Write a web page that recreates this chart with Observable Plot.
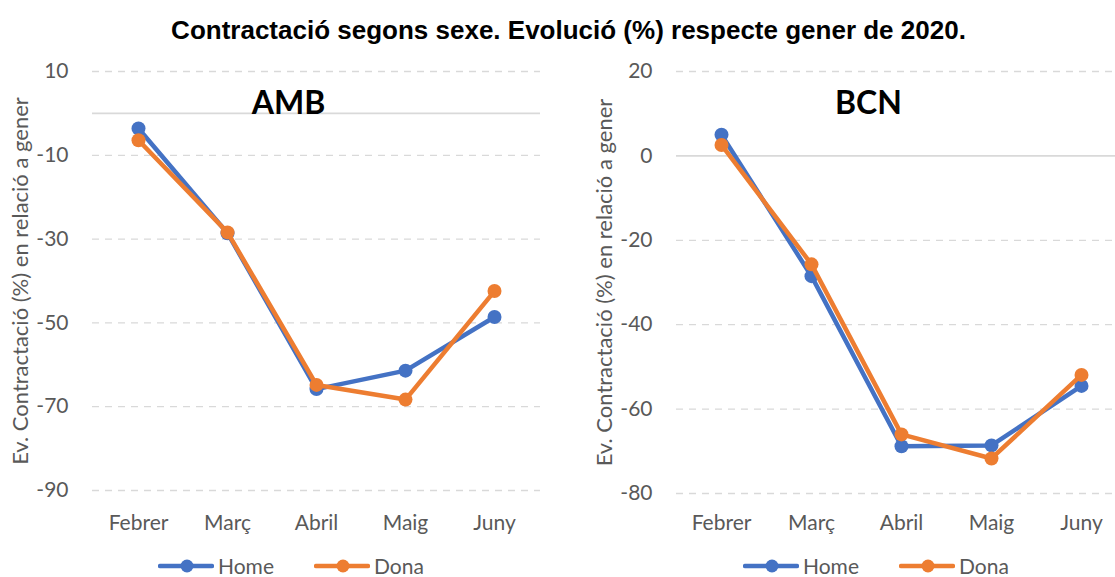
<!DOCTYPE html>
<html>
<head>
<meta charset="utf-8">
<script src="https://cdn.jsdelivr.net/npm/d3@7"></script>
<script src="https://cdn.jsdelivr.net/npm/@observablehq/plot@0.6"></script>
<style>
  html, body { margin: 0; padding: 0; background: #fff; }
  body { width: 1115px; height: 577px; overflow: hidden; position: relative; font-family: Lato, "Open Sans", sans-serif; }
  #title { position: absolute; left: 0; top: 15px; width: 1137px; text-align: center; font-family: "Liberation Sans", Arial, sans-serif; font-weight: bold; font-size: 26px; color: #000; line-height: 30px; }
  .panel { position: absolute; top: 50px; height: 500px; overflow: visible; }
  .panel svg { max-width: none !important; }
  .legend { position: absolute; top: 555px; height: 22px; display: flex; align-items: center; font-family: Lato, sans-serif; font-size: 21px; color: #595959; line-height: 22px; white-space: nowrap; }
  .legend .item { display: flex; align-items: center; }
  .legend .item + .item { margin-left: 40px; }
  .legend svg { margin-right: 4px; }
</style>
</head>
<body>
<div id="title">Contractació segons sexe. Evolució (%) respecte gener de 2020.</div>
<div id="left" class="panel" style="left:0px; width:557px"></div>
<div id="right" class="panel" style="left:557px; width:569px"></div>
<div id="legL" class="legend" style="left:158px"></div>
<div id="legR" class="legend" style="left:743px"></div>
<script>
const months = ["Febrer", "Març", "Abril", "Maig", "Juny"];
const seriesNames = ["Home", "Dona"];
const seriesColors = ["#4472C4", "#ED7D31"];

const ambHome = [-3.6, -28.6, -65.8, -61.4, -48.6];
const ambDona = [-6.4, -28.4, -64.8, -68.3, -42.4];
const bcnHome = [5.0, -28.5, -68.8, -68.6, -54.5];
const bcnDona = [2.6, -25.7, -66.0, -71.7, -51.9];

const ambTicks = [10, -10, -30, -50, -70, -90];
const bcnTicks = [20, 0, -20, -40, -60, -80];

const yLabel = "Ev. Contractació (%) en relació a gener";

function rows(vals, name) {
  return months.map((m, i) => ({month: m, value: vals[i], series: name}));
}

function panel(opts) {
  const {home, dona, ticks, domain, name, width, marginLeft, marginRight, marginBottom, titleDx, xPad} = opts;
  const h = rows(home, "Home");
  const d = rows(dona, "Dona");
  return Plot.plot({
    width, height: 500,
    marginLeft, marginRight, marginTop: 21, marginBottom,
    style: {fontFamily: "Lato, sans-serif", fontSize: "21px", color: "#595959", background: "white", overflow: "visible", maxWidth: "none"},
    x: {type: "point", domain: months, padding: 0.5},
    y: {domain},
    marks: [
      Plot.ruleY(ticks.filter(t => t !== 0), {stroke: "#d9d9d9", strokeWidth: 1.3, strokeDasharray: "7,6"}),
      Plot.ruleY([0], {stroke: "#d9d9d9", strokeWidth: 1.6}),
      Plot.axisY(ticks, {tickSize: 0, tickPadding: 24, fontSize: 21, label: null, tickFormat: d => String(d)}),
      Plot.axisX(months, {tickSize: 0, tickPadding: xPad, fontSize: 21, label: null}),
      Plot.text([yLabel], {frameAnchor: "left", rotate: -90, dx: -72, fontSize: 22, fill: "#595959", textAnchor: "middle"}),
      Plot.text([name], {frameAnchor: "top", dy: 20, dx: titleDx, fontSize: 32, fontWeight: "bold", fill: "#000", fontFamily: "Lato, sans-serif"}),
      Plot.line(h, {x: "month", y: "value", stroke: seriesColors[0], strokeWidth: 4.5}),
      Plot.dot(h, {x: "month", y: "value", r: 7, fill: seriesColors[0], stroke: null}),
      Plot.line(d, {x: "month", y: "value", stroke: seriesColors[1], strokeWidth: 4.5}),
      Plot.dot(d, {x: "month", y: "value", r: 7, fill: seriesColors[1], stroke: null})
    ]
  });
}

document.getElementById("left").append(panel({
  home: ambHome, dona: ambDona, ticks: ambTicks, domain: [-90, 10], name: "AMB",
  width: 557, marginLeft: 92, marginRight: 17, marginBottom: 60, titleDx: -28, xPad: 25
}));
document.getElementById("right").append(panel({
  home: bcnHome, dona: bcnDona, ticks: bcnTicks, domain: [-80, 20], name: "BCN",
  width: 569, marginLeft: 119, marginRight: 0, marginBottom: 57, titleDx: -33, xPad: 22
}));

function legend(el) {
  seriesNames.forEach((n, i) => {
    const item = document.createElement("div");
    item.className = "item";
    const c = seriesColors[i];
    item.innerHTML = `<svg width="56" height="16"><line x1="2" y1="8" x2="54" y2="8" stroke="${c}" stroke-width="4.5" stroke-linecap="round"/><circle cx="29" cy="8" r="6.5" fill="${c}"/></svg><span>${n}</span>`;
    el.append(item);
  });
}
legend(document.getElementById("legL"));
legend(document.getElementById("legR"));
</script>
</body>
</html>
